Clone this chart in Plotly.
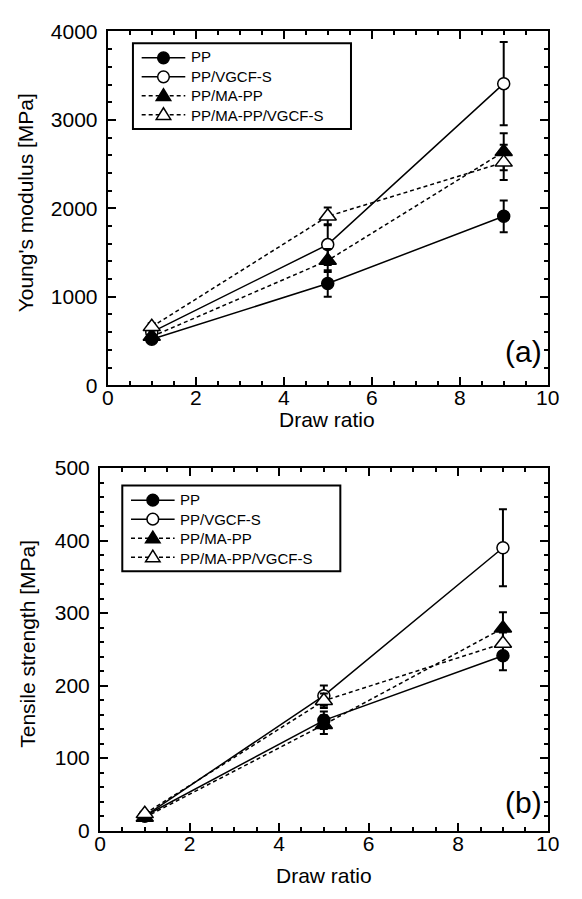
import plotly.graph_objects as go

# Draw ratios tested
draw_ratio = [1, 5, 9]

series_names = ["PP", "PP/VGCF-S", "PP/MA-PP", "PP/MA-PP/VGCF-S"]

# Young's modulus [MPa] and standard deviations
modulus_pp = [520, 1150, 1910]
modulus_pp_err = [30, 150, 180]
modulus_vgcf = [600, 1590, 3410]
modulus_vgcf_err = [40, 230, 470]
modulus_mapp = [550, 1410, 2640]
modulus_mapp_err = [30, 130, 210]
modulus_mapp_vgcf = [660, 1910, 2520]
modulus_mapp_vgcf_err = [40, 100, 200]

# Tensile strength [MPa] and standard deviations
strength_pp = [20, 152, 241]
strength_pp_err = [3, 12, 20]
strength_vgcf = [20, 186, 390]
strength_vgcf_err = [3, 14, 53]
strength_mapp = [18, 146, 279]
strength_mapp_err = [3, 13, 22]
strength_mapp_vgcf = [23, 179, 258]
strength_mapp_vgcf_err = [3, 10, 15]

FONT = "Liberation Sans, Arial, sans-serif"
W, H = 582, 899

styles = [
    dict(symbol="circle", fill="black", dash="solid", size=12),
    dict(symbol="circle", fill="white", dash="solid", size=12),
    dict(symbol="triangle-up", fill="black", dash="4px,3px", size=15),
    dict(symbol="triangle-up", fill="white", dash="4px,3px", size=15),
]

fig = go.Figure()


def add_series(values, errors, panel):
    xa, ya = ("x", "y") if panel == 1 else ("x2", "y2")
    for name, y, e, st in zip(series_names, values, errors, styles):
        fig.add_trace(go.Scatter(
            x=draw_ratio, y=y, name=name, mode="lines+markers",
            xaxis=xa, yaxis=ya, showlegend=False,
            line=dict(color="black", width=1.5, dash=st["dash"]),
            marker=dict(symbol=st["symbol"], size=st["size"], color=st["fill"],
                        line=dict(color="black", width=1.5)),
            error_y=dict(type="data", array=e, visible=True, color="black",
                         thickness=2, width=4),
        ))


add_series([modulus_pp, modulus_vgcf, modulus_mapp, modulus_mapp_vgcf],
           [modulus_pp_err, modulus_vgcf_err, modulus_mapp_err, modulus_mapp_vgcf_err], 1)
add_series([strength_pp, strength_vgcf, strength_mapp, strength_mapp_vgcf],
           [strength_pp_err, strength_vgcf_err, strength_mapp_err, strength_mapp_vgcf_err], 2)


def axis_common(rng, dtick, minor_dtick):
    return dict(
        range=rng, dtick=dtick, tick0=0, ticks="inside", ticklen=8, tickwidth=1.5,
        tickcolor="black", showline=True, linewidth=2, linecolor="black",
        mirror="allticks", showgrid=False, zeroline=False,
        tickfont=dict(family=FONT, size=21, color="black"),
        minor=dict(dtick=minor_dtick, tick0=0, ticks="inside", ticklen=4,
                   tickwidth=1.5, tickcolor="black", showgrid=False),
        fixedrange=True,
    )


fig.update_layout(
    width=W, height=H, autosize=False,
    margin=dict(l=0, r=0, t=0, b=0),
    paper_bgcolor="white", plot_bgcolor="white",
    font=dict(family=FONT, color="black"),
    showlegend=False,
    xaxis=dict(domain=[105 / W, 559 / W], anchor="y", ticklabelstandoff=-7,
               **axis_common([0, 10], 2, 0.5)),
    yaxis=dict(domain=[1 - 383 / H, 1 - 20 / H], anchor="x", ticklabelstandoff=4,
               **axis_common([0, 4000], 1000, 200)),
    xaxis2=dict(domain=[97 / W, 559 / W], anchor="y2", ticklabelstandoff=-7,
                **axis_common([0, 10], 2, 0.5)),
    yaxis2=dict(domain=[1 - 840 / H, 1 - 468 / H], anchor="x2", ticklabelstandoff=4,
                **axis_common([0, 500], 100, 20)),
)


# ---- legend boxes (pixel layout converted to paper coordinates) ----
def px(x):
    return x / W


def py(y):
    return 1 - y / H


LEG_FONT = 15
ROW = 1.3 * LEG_FONT  # plotly's multi-line spacing


def draw_legend(left, top, width=225, height=88):
    fig.add_shape(type="rect", xref="paper", yref="paper",
                  x0=px(left), x1=px(left + width), y0=py(top), y1=py(top + height),
                  line=dict(color="black", width=2), fillcolor="white", layer="above")
    rows = [top + 15 + ROW * i for i in range(len(series_names))]
    for yc, st in zip(rows, styles):
        x0, x1, xm = left + 9, left + 54, left + 31.5
        fig.add_shape(type="line", xref="paper", yref="paper",
                      x0=px(x0), x1=px(x1), y0=py(yc), y1=py(yc),
                      line=dict(color="black", width=1.5, dash=st["dash"]), layer="above")
        if st["symbol"] == "circle":
            r = 6
            fig.add_shape(type="circle", xref="paper", yref="paper",
                          x0=px(xm - r), x1=px(xm + r), y0=py(yc + r), y1=py(yc - r),
                          line=dict(color="black", width=1.5), fillcolor=st["fill"],
                          layer="above")
        else:
            hw, h = 7.5, 12
            path = "M {:.5f},{:.5f} L {:.5f},{:.5f} L {:.5f},{:.5f} Z".format(
                px(xm - hw), py(yc + h * 0.4), px(xm + hw), py(yc + h * 0.4),
                px(xm), py(yc - h * 0.6))
            fig.add_shape(type="path", xref="paper", yref="paper", path=path,
                          line=dict(color="black", width=1.5), fillcolor=st["fill"],
                          layer="above")
    fig.add_annotation(text="<br>".join(series_names), xref="paper", yref="paper",
                       x=px(left + 58), y=py(sum(rows) / len(rows)),
                       xanchor="left", yanchor="middle", align="left",
                       showarrow=False,
                       font=dict(family=FONT, size=LEG_FONT, color="black"))


draw_legend(131, 32)
draw_legend(120, 486)

title_font = dict(family=FONT, size=21, color="black")
annotations = [
    dict(text="Young's modulus [MPa]", x=21 / W, y=1 - 196 / H, textangle=-90),
    dict(text="Tensile strength [MPa]", x=22 / W, y=1 - 648 / H, textangle=-90),
    dict(text="Draw ratio", x=331 / W, y=1 - 418 / H),
    dict(text="Draw ratio", x=328 / W, y=1 - 886 / H),
]
for a in annotations:
    fig.add_annotation(xref="paper", yref="paper", showarrow=False,
                       xanchor="center", yanchor="middle", font=title_font, **a)

for label, yy in [("(a)", 348), ("(b)", 811)]:
    fig.add_annotation(text=label, xref="paper", yref="paper", x=534 / W, y=1 - yy / H,
                       showarrow=False, xanchor="center", yanchor="middle",
                       font=dict(family=FONT, size=30, color="black"))

fig.write_html("out.html")
